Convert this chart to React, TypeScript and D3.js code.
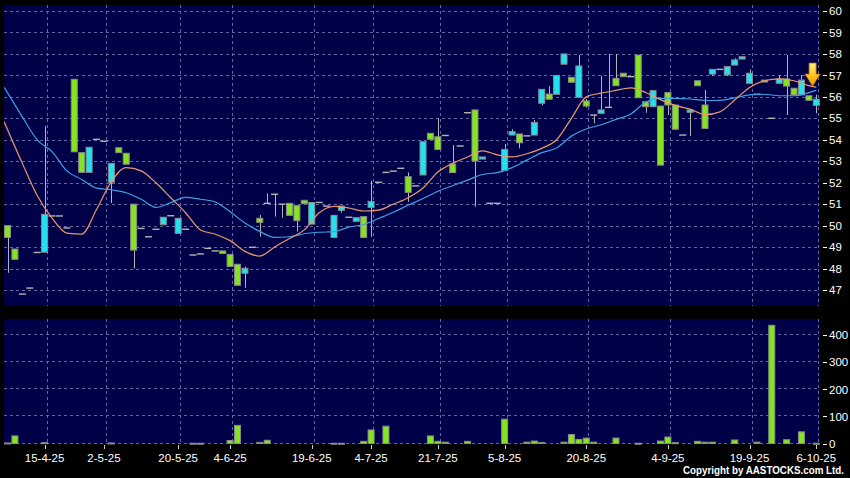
import React from 'react';
import * as d3 from 'd3';

// ---------- data ----------
const opens = [
  50.0, 48.91, 46.81, 47.09, 48.75, 48.76, 50.45, 50.45, 49.89, 56.82,
  53.40, 52.48, 54.02, 53.93, 52.02, 53.63, 53.37, 51.0, 49.87, 49.48,
  49.83, 50.04, 50.46, 49.64, 49.83, 48.63, 48.68, 48.94, 48.82, 48.82,
  48.66, 48.2, 47.78, 48.99, 50.34, 51.04, 51.46, 51.0, 51.04, 50.93,
  51.18, 50.07, 51.08, 50.91, 49.45, 50.71, 50.39, 50.2, 50.42, 50.85,
  52.02, 52.48, 52.54, 52.67, 52.28, 51.85, 52.36, 54.30, 54.14, 54.2,
  52.87, 53.71, 55.26, 55.39, 53.1, 51.04, 51.04, 52.56, 54.22, 54.27,
  54.18, 54.22, 55.70, 56.13, 56.12, 57.52, 56.91, 55.98, 55.81, 55.15,
  55.23, 55.51, 56.86, 57.10, 56.94, 57.95, 55.77, 55.54, 55.57, 56.2,
  55.62, 54.22, 55.28, 56.75, 55.62, 57.06, 57.28, 57.02, 57.48, 57.76,
  56.63, 56.12, 56.78, 55.0, 56.63, 56.83, 56.4, 56.09, 56.05, 55.6,
];
const closes = [
  49.45, 48.43, 46.81, 47.09, 48.75, 50.53, 50.45, 50.45, 49.89, 53.44,
  52.48, 53.65, 54.02, 53.93, 52.90, 53.40, 52.86, 48.86, 49.87, 49.48,
  49.83, 50.39, 50.46, 50.34, 49.83, 48.63, 48.68, 48.94, 48.82, 48.70,
  48.09, 47.22, 48.01, 48.99, 50.15, 51.04, 51.46, 51.0, 50.48, 50.23,
  51.02, 51.08, 51.08, 50.91, 50.48, 50.91, 50.39, 50.37, 49.45, 51.13,
  52.02, 52.48, 52.54, 52.67, 51.55, 51.85, 53.91, 54.02, 53.55, 54.2,
  52.47, 53.71, 55.26, 53.01, 53.2, 51.04, 51.04, 53.55, 54.38, 53.86,
  54.18, 54.81, 56.35, 55.89, 57.0, 58.0, 56.68, 57.44, 55.57, 55.15,
  55.39, 55.51, 56.52, 56.94, 56.94, 55.96, 55.54, 56.29, 52.82, 55.62,
  54.49, 54.22, 55.39, 56.52, 54.53, 57.28, 57.28, 57.41, 57.72, 57.87,
  57.10, 56.12, 56.69, 55.0, 56.83, 56.5, 56.09, 56.78, 55.84, 55.89,
];
const highs = [
  50.0, 48.91, 46.81, 47.09, 48.75, 54.64, 50.45, 50.45, 49.89, 56.82,
  53.40, 53.65, 54.02, 53.93, 52.90, 53.63, 53.37, 51.0, 49.87, 49.48,
  49.83, 50.39, 50.46, 50.34, 49.83, 48.63, 48.68, 48.94, 48.82, 48.82,
  48.66, 48.2, 48.09, 48.99, 50.49, 51.5, 51.46, 51.0, 51.04, 50.93,
  51.18, 51.08, 51.08, 50.91, 50.48, 50.91, 50.39, 50.37, 50.42, 52.09,
  52.02, 52.48, 52.54, 52.67, 52.48, 51.85, 53.91, 54.30, 55.0, 54.2,
  53.76, 53.71, 55.26, 55.39, 53.2, 51.04, 51.04, 53.8, 54.49, 54.27,
  54.18, 54.92, 56.35, 56.5, 57.0, 58.0, 56.91, 57.95, 55.9, 55.15,
  56.97, 58.0, 58.0, 57.10, 56.94, 57.95, 55.77, 56.29, 55.57, 56.2,
  55.62, 54.22, 55.39, 56.75, 56.32, 57.28, 57.28, 57.41, 57.8, 57.87,
  57.28, 56.12, 56.78, 55.0, 57.0, 57.95, 56.4, 57.02, 56.05, 56.1,
];
const lows = [
  47.8, 48.43, 46.81, 47.09, 48.75, 48.76, 50.45, 50.45, 49.89, 53.44,
  52.48, 52.48, 54.02, 53.93, 51.05, 53.40, 52.86, 48.0, 49.87, 49.48,
  49.83, 50.04, 50.46, 49.64, 49.83, 48.63, 48.68, 48.94, 48.82, 48.70,
  48.09, 47.22, 47.1, 48.99, 49.48, 51.04, 50.42, 50.37, 50.48, 49.72,
  51.02, 50.07, 51.08, 50.91, 49.45, 50.6, 50.39, 50.2, 49.45, 49.48,
  52.02, 52.48, 52.54, 52.67, 51.11, 51.85, 52.36, 54.02, 53.55, 54.2,
  52.45, 53.71, 55.26, 50.88, 53.1, 51.04, 51.04, 52.56, 54.22, 53.6,
  54.18, 54.22, 55.6, 55.89, 56.12, 57.52, 56.68, 55.98, 55.5, 54.77,
  55.23, 55.51, 56.52, 56.94, 56.94, 55.96, 55.26, 55.54, 52.82, 55.15,
  54.49, 54.22, 54.18, 56.52, 54.53, 56.97, 57.28, 56.97, 57.48, 57.76,
  56.63, 56.12, 56.69, 55.0, 56.63, 55.15, 56.09, 56.09, 55.84, 55.23,
];
const volumes = [
  2, 28, 0, 0, 0, 3, 0, 0, 0, 0,
  0, 0, 0, 0, 2, 0, 0, 0, 0, 0,
  0, 0, 0, 0, 0, 1, 1, 0, 0, 0,
  11, 67, 0, 0, 4, 12, 0, 0, 0, 0,
  0, 0, 0, 0, 1, 1, 0, 0, 8, 50,
  0, 64, 0, 0, 0, 0, 0, 28, 8, 5,
  0, 0, 8, 0, 0, 0, 0, 90, 0, 0,
  5, 9, 4, 0, 0, 5, 33, 15, 20, 5,
  0, 0, 20, 0, 0, 1, 0, 0, 9, 24,
  3, 0, 0, 8, 5, 5, 0, 0, 13, 0,
  0, 5, 0, 437, 0, 14, 0, 43, 0, 1,
];
// moving averages sampled at these candle indices
const maIdx = [
  -0.45, 2, 4, 6, 8, 10, 12, 14, 16, 18,
  20, 22, 24, 26, 28, 30, 32, 34, 36, 38,
  40, 42, 44, 46, 48, 50, 52, 54, 56, 58,
  60, 62, 64, 66, 68, 70, 72, 74, 76, 78,
  80, 82, 84, 86, 88, 90, 92, 94, 96, 98,
  100, 102, 104, 106, 108, 109,
];
const maShort = [
  54.84, 52.9, 51.4, 50.35, 49.65, 49.6, 50.75, 52.05, 52.7, 52.55,
  52.0, 51.3, 50.6, 49.8, 49.6, 49.3, 48.8, 48.58, 49.0, 49.4,
  49.8, 50.6, 50.9, 50.82, 50.68, 50.72, 51.0, 51.3, 51.75, 52.5,
  52.9, 53.2, 53.48, 53.3, 53.2, 53.35, 53.6, 54.0, 55.0, 56.0,
  56.17, 56.3, 56.42, 56.2, 55.87, 55.6, 55.43, 55.17, 55.3, 55.85,
  56.44, 56.75, 56.84, 56.75, 56.52, 56.45,
];
const maLong = [
  56.44, 55.07, 54.0, 53.45, 52.55, 52.15, 51.75, 51.67, 51.53, 51.23,
  50.85, 51.07, 51.32, 51.23, 51.1, 50.65, 50.12, 49.73, 49.45, 49.48,
  49.62, 49.69, 49.72, 49.93, 50.05, 50.33, 50.62, 50.95, 51.26, 51.6,
  51.86, 52.12, 52.38, 52.47, 52.7, 53.05, 53.4, 53.62, 54.17, 54.5,
  54.7, 54.95, 55.2, 55.75, 55.93, 55.93, 55.9, 55.83, 55.84, 55.95,
  56.09, 56.12, 56.05, 56.05, 56.2, 56.3,
];
const dateIdx = [5, 13, 23, 30, 41, 49, 58, 67, 78, 89, 100, 109];
const dateLabels = [
  '15-4-25', '2-5-25', '20-5-25', '4-6-25', '19-6-25', '4-7-25',
  '21-7-25', '5-8-25', '20-8-25', '4-9-25', '19-9-25', '6-10-25',
];
const priceTicks = [47, 48, 49, 50, 51, 52, 53, 54, 55, 56, 57, 58, 59, 60];
const volTicks = [0, 100, 200, 300, 400];
const arrowIdx = 108.5;
const arrowPrice = 56.5;

// ---------- styles ----------
const BG = '#000000';
const PANEL = '#000048';
const GRID = '#6464a0';
const UP = '#22e2f0';
const DOWN = '#84e41e';
const EDGE = '#8c8c8c';
const WICK = '#b4b4b4';
const FONT = '"Liberation Sans", Arial, sans-serif';

export default function App() {
  const W = 850;
  const H = 478;
  const main = { x0: 4, x1: 820, y0: 5, y1: 306 };
  const vol = { x0: 4, x1: 820, y0: 319, y1: 444 };

  const x = d3.scaleLinear().domain([0, 109]).range([7.5, 816.3]);
  const y = d3.scaleLinear().domain([47, 60]).range([290, 11]);
  const yv = d3.scaleLinear().domain([0, 400]).range([443.5, 335.3]);
  const bw = 6;
  const gx = (i: number) => x(i) + 2;

  const maLine = d3
    .line<number>()
    .x((_, k) => x(maIdx[k]))
    .y((v) => y(v))
    .curve(d3.curveMonotoneX);

  const candles = opens.map((o, i) => ({
    i,
    o,
    c: closes[i],
    h: highs[i],
    l: lows[i],
  }));

  const ax = x(arrowIdx);
  const ay = y(arrowPrice);

  return (
    <svg
      width={W}
      height={H}
      style={{ position: 'fixed', left: 0, top: 0, background: BG, display: 'block' }}
    >
      <defs>
        <linearGradient id="arrowGrad" x1="0" y1="0" x2="0" y2="1">
          <stop offset="0%" stopColor="#fff07a" />
          <stop offset="55%" stopColor="#ffc21a" />
          <stop offset="100%" stopColor="#f29a00" />
        </linearGradient>
        <clipPath id="mainClip">
          <rect x={main.x0} y={main.y0} width={main.x1 - main.x0} height={main.y1 - main.y0} />
        </clipPath>
      </defs>
      <rect x={0} y={0} width={W} height={H} fill={BG} />

      {/* panels */}
      <rect x={main.x0} y={main.y0} width={main.x1 - main.x0} height={main.y1 - main.y0} fill={PANEL} />
      <rect x={vol.x0} y={vol.y0} width={vol.x1 - vol.x0} height={vol.y1 - vol.y0} fill={PANEL} />

      {/* grid */}
      <g stroke={GRID} strokeWidth={1} strokeDasharray="3,3" shapeRendering="crispEdges">
        {priceTicks.map((p) => (
          <line key={'hp' + p} x1={main.x0} x2={main.x1} y1={Math.round(y(p)) + 0.5} y2={Math.round(y(p)) + 0.5} />
        ))}
        {volTicks.map((v) => (
          <line key={'hv' + v} x1={vol.x0} x2={vol.x1} y1={Math.round(yv(v)) - 0.5} y2={Math.round(yv(v)) - 0.5} />
        ))}
        {dateIdx.map((d) => (
          <g key={'v' + d}>
            <line x1={Math.round(gx(d)) + 0.5} x2={Math.round(gx(d)) + 0.5} y1={main.y0} y2={main.y1} />
            <line x1={Math.round(gx(d)) + 0.5} x2={Math.round(gx(d)) + 0.5} y1={vol.y0} y2={vol.y1} />
          </g>
        ))}
      </g>

      {/* candles */}
      <g clipPath="url(#mainClip)">
        {candles.map((d) => {
          const cx = x(d.i);
          const top = Math.max(d.o, d.c);
          const bot = Math.min(d.o, d.c);
          const flat = Math.abs(d.o - d.c) < 0.03;
          return (
            <g key={'c' + d.i}>
              {d.h > top && (
                <line x1={Math.round(cx) + 0.5} x2={Math.round(cx) + 0.5} y1={y(d.h)} y2={y(top)} stroke={WICK} strokeWidth={1} />
              )}
              {d.l < bot && (
                <line x1={Math.round(cx) + 0.5} x2={Math.round(cx) + 0.5} y1={y(bot)} y2={y(d.l)} stroke={WICK} strokeWidth={1} />
              )}
              {flat ? (
                <line x1={cx - bw / 2 - 0.5} x2={cx + bw / 2 + 0.5} y1={y(d.o)} y2={y(d.o)} stroke={WICK} strokeWidth={1.4} />
              ) : (
                <rect
                  x={cx - bw / 2}
                  y={y(top)}
                  width={bw}
                  height={Math.max(1, y(bot) - y(top))}
                  fill={d.c > d.o ? UP : DOWN}
                  stroke={EDGE}
                  strokeWidth={1}
                />
              )}
            </g>
          );
        })}
        {/* moving averages */}
        <path d={maLine(maLong) || ''} fill="none" stroke="#3aa2e4" strokeWidth={1.2} />
        <path d={maLine(maShort) || ''} fill="none" stroke="#eb9868" strokeWidth={1.2} />
      </g>

      {/* arrow marker */}
      <path
        d={`M${ax - 3.5},${ay - 23} L${ax + 3.5},${ay - 23} L${ax + 3.5},${ay - 12} L${ax + 7.5},${ay - 12} L${ax},${ay} L${ax - 7.5},${ay - 12} L${ax - 3.5},${ay - 12} Z`}
        fill="url(#arrowGrad)"
        stroke="#c07800"
        strokeWidth={0.8}
      />

      {/* volume bars */}
      <g>
        {volumes.map((v, i) =>
          v > 0 ? (
            <rect
              key={'vb' + i}
              x={x(i) - bw / 2}
              y={yv(v)}
              width={bw}
              height={Math.max(1, yv(0) - yv(v))}
              fill={DOWN}
              stroke={EDGE}
              strokeWidth={1}
            />
          ) : null
        )}
      </g>

      {/* right axis labels */}
      <g fontFamily={FONT} fontSize={11.5} fill="#ffffff">
        {priceTicks.map((p) => (
          <g key={'pl' + p}>
            <line x1={823} x2={827} y1={Math.round(y(p)) + 0.5} y2={Math.round(y(p)) + 0.5} stroke="#ffffff" strokeWidth={1} />
            <text x={829} y={y(p)} dy="0.36em">{p}</text>
          </g>
        ))}
        {volTicks.map((v) => (
          <g key={'vl' + v}>
            <line x1={823} x2={827} y1={Math.round(yv(v)) + 0.5} y2={Math.round(yv(v)) + 0.5} stroke="#ffffff" strokeWidth={1} />
            <text x={829} y={yv(v)} dy="0.36em">{v}</text>
          </g>
        ))}
      </g>

      {/* date axis */}
      <g fontFamily={FONT} fontSize={11.5} fill="#ffffff">
        {dateIdx.map((d, k) => (
          <g key={'dl' + d}>
            <line x1={Math.round(gx(d) - 2) + 0.5} x2={Math.round(gx(d) - 2) + 0.5} y1={445} y2={449} stroke="#cccccc" strokeWidth={1} />
            <text x={gx(d) - 2} y={461.5} textAnchor="middle">{dateLabels[k]}</text>
          </g>
        ))}
      </g>

      <text
        x={683}
        y={473.5}
        fontFamily={FONT}
        fontSize={10}
        fontWeight="bold"
        textLength={161}
        lengthAdjust="spacingAndGlyphs"
        fill="#ffffff"
      >
        Copyright by AASTOCKS.com Ltd.
      </text>
    </svg>
  );
}
